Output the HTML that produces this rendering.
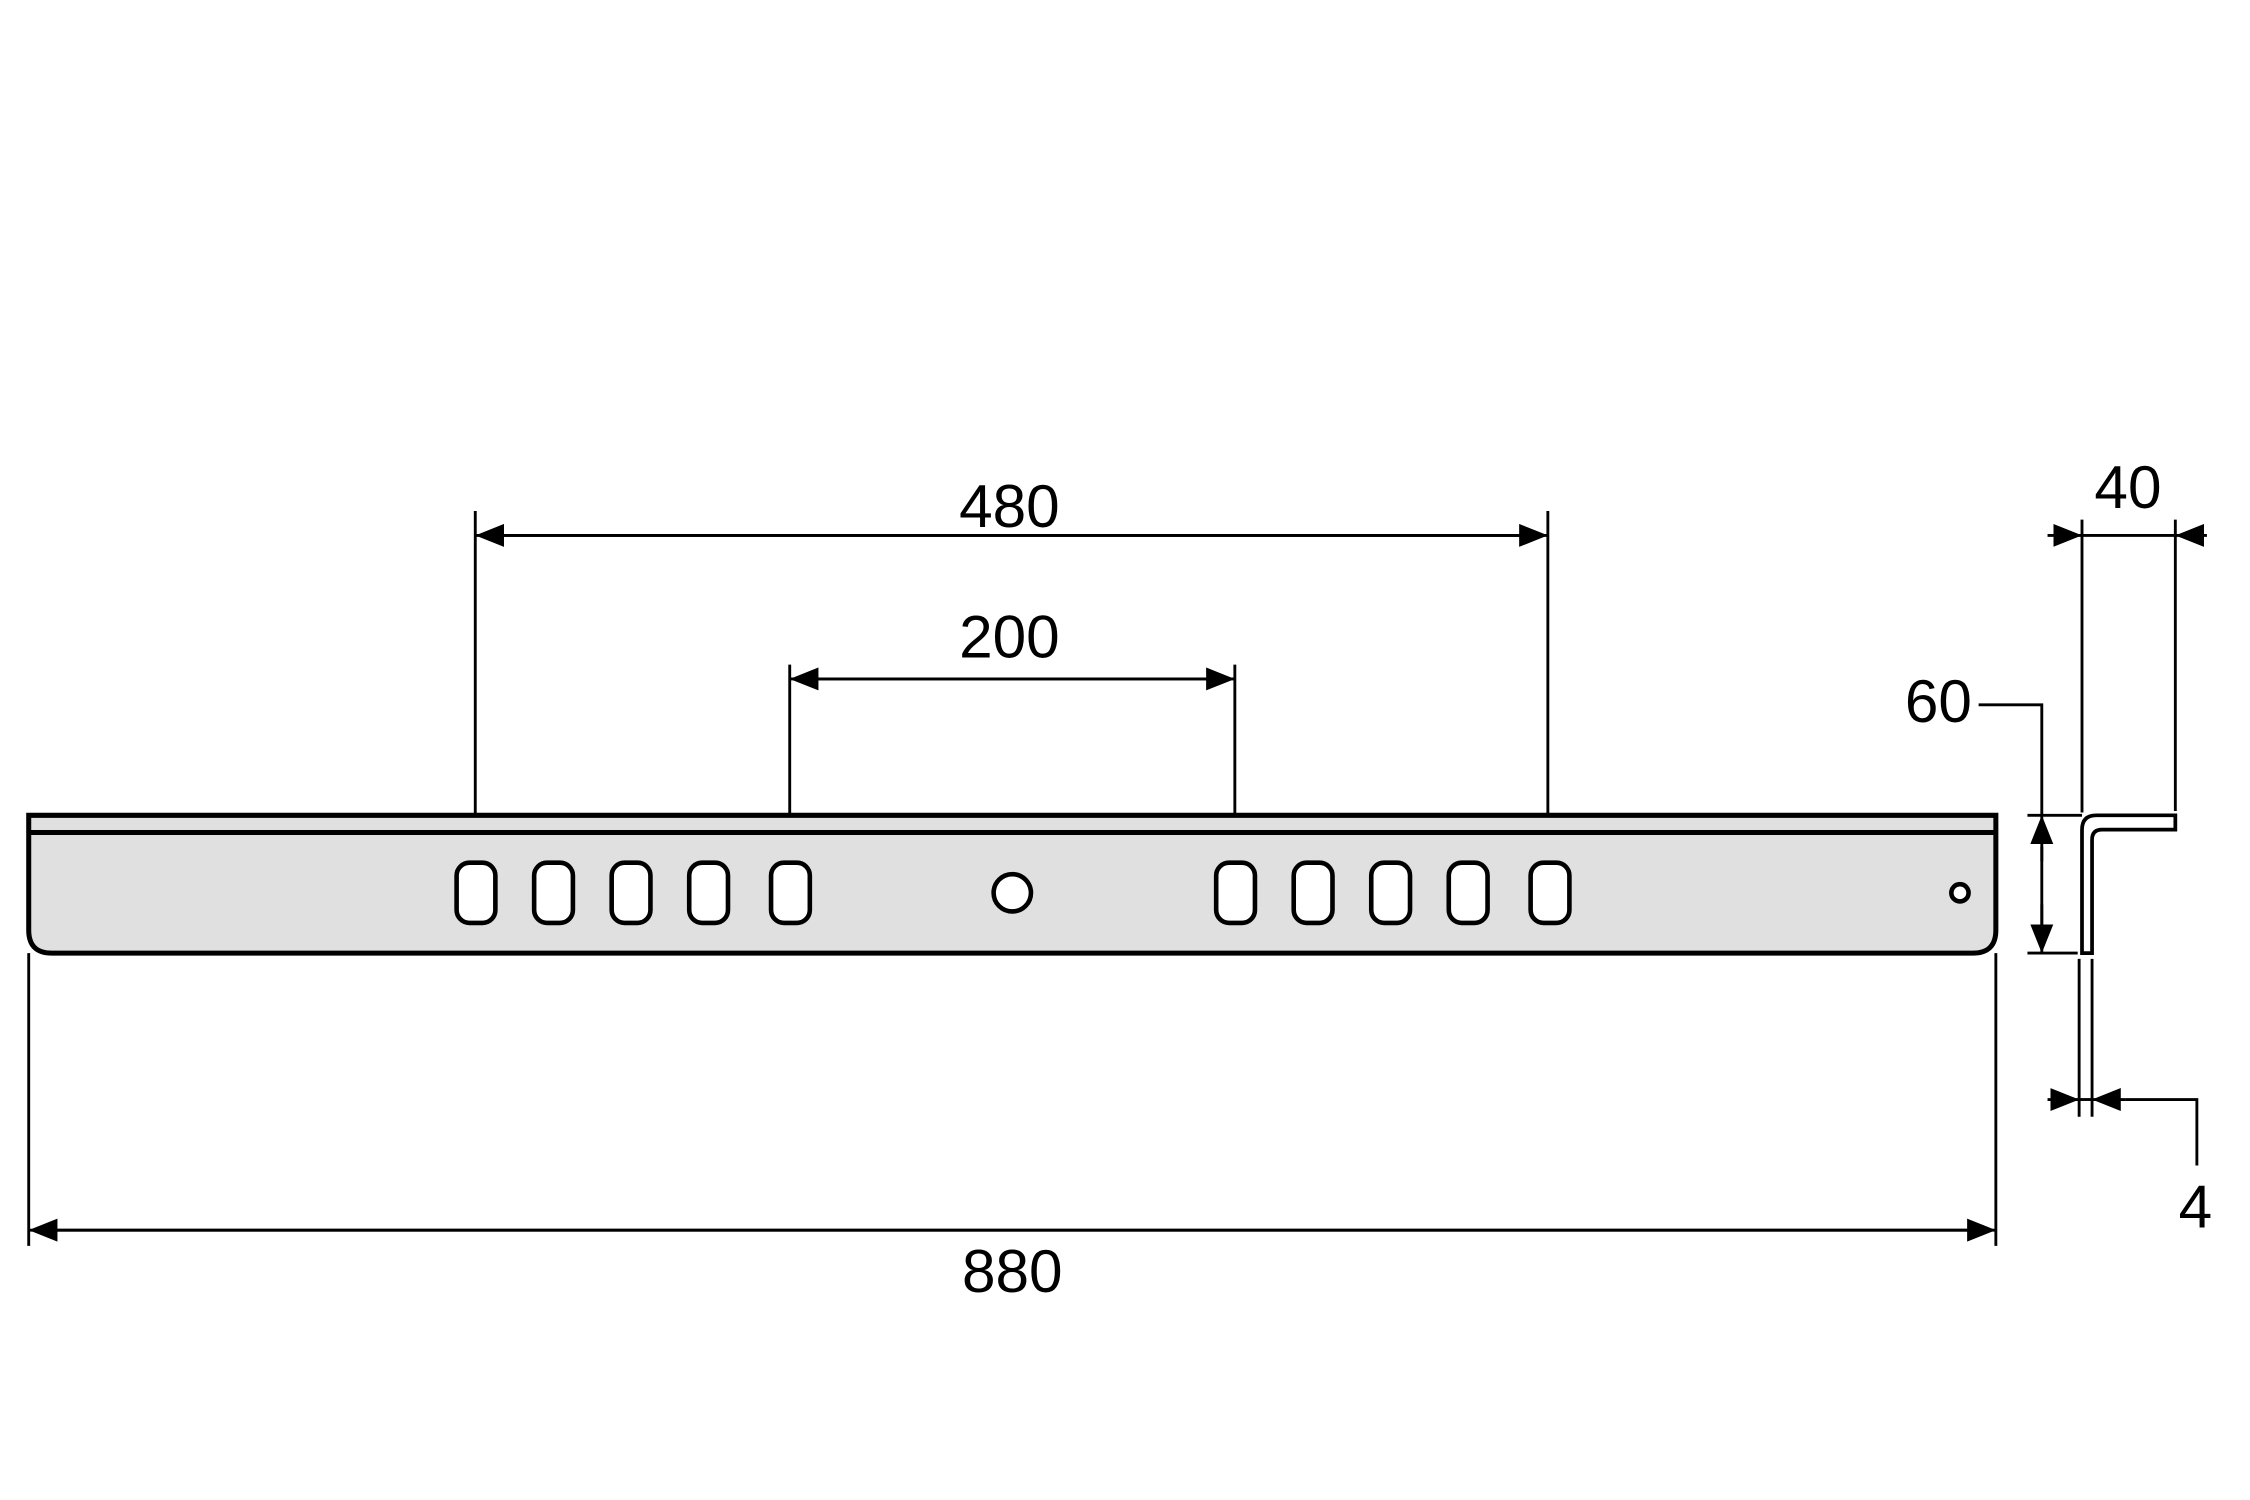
<!DOCTYPE html>
<html><head><meta charset="utf-8"><style>html,body{margin:0;padding:0;background:#fff}svg{display:block}</style></head><body>
<svg width="2250" height="1500" viewBox="0 0 1567 1045" preserveAspectRatio="none" xmlns="http://www.w3.org/2000/svg" font-family="Liberation Sans, sans-serif">
<defs>
<marker id="a" viewBox="0 0 20 16" refX="20" refY="8" markerWidth="20" markerHeight="16" markerUnits="userSpaceOnUse" orient="auto"><path d="M0,0L20,8L0,16z" fill="#000"/></marker>
</defs>
<g stroke="#000" fill="none">
<path d="M20,568H1390V648Q1390,664 1374,664H36Q20,664 20,648Z" fill="#e0e0e0" stroke-width="3.5"/>
<line x1="20" y1="580" x2="1390" y2="580" stroke-width="3.5"/>
<g fill="#fff" stroke-width="3.2">
<rect x="318" y="601" width="27" height="42" rx="9"/>
<rect x="372" y="601" width="27" height="42" rx="9"/>
<rect x="426" y="601" width="27" height="42" rx="9"/>
<rect x="480" y="601" width="27" height="42" rx="9"/>
<rect x="537" y="601" width="27" height="42" rx="9"/>
<rect x="847" y="601" width="27" height="42" rx="9"/>
<rect x="901" y="601" width="27" height="42" rx="9"/>
<rect x="955" y="601" width="27" height="42" rx="9"/>
<rect x="1009" y="601" width="27" height="42" rx="9"/>
<rect x="1066" y="601" width="27" height="42" rx="9"/>
<circle cx="705" cy="622" r="13"/>
<circle cx="1365" cy="622" r="6"/>
</g>
<g stroke-width="2">
<line x1="331" y1="356" x2="331" y2="568"/><line x1="1078" y1="356" x2="1078" y2="568"/>
<line x1="340" y1="373" x2="1078" y2="373" marker-end="url(#a)"/>
<line x1="1069" y1="373" x2="331" y2="373" marker-end="url(#a)"/>
<line x1="550" y1="463" x2="550" y2="568"/><line x1="860" y1="463" x2="860" y2="568"/>
<line x1="560" y1="473" x2="860" y2="473" marker-end="url(#a)"/>
<line x1="850" y1="473" x2="550" y2="473" marker-end="url(#a)"/>
<line x1="20" y1="664" x2="20" y2="868"/><line x1="1390" y1="664" x2="1390" y2="868"/>
<line x1="30" y1="857" x2="1390" y2="857" marker-end="url(#a)"/>
<line x1="1380" y1="857" x2="20" y2="857" marker-end="url(#a)"/>
<line x1="1450" y1="362" x2="1450" y2="566"/><line x1="1515" y1="362" x2="1515" y2="565"/>
<line x1="1426" y1="373" x2="1450" y2="373" marker-end="url(#a)"/>
<line x1="1537" y1="373" x2="1515" y2="373" marker-end="url(#a)"/>
<line x1="1450" y1="373" x2="1515" y2="373"/>
<line x1="1412" y1="568" x2="1450" y2="568"/><line x1="1412" y1="664" x2="1447" y2="664"/>
<line x1="1422" y1="600" x2="1422" y2="568" marker-end="url(#a)"/>
<line x1="1422" y1="630" x2="1422" y2="664" marker-end="url(#a)"/>
<line x1="1422" y1="590" x2="1422" y2="645"/>
<polyline points="1378,491 1422,491 1422,568"/>
<line x1="1448" y1="668" x2="1448" y2="778"/><line x1="1457" y1="668" x2="1457" y2="778"/>
<line x1="1426" y1="766" x2="1448" y2="766" marker-end="url(#a)"/>
<line x1="1480" y1="766" x2="1457" y2="766" marker-end="url(#a)"/>
<line x1="1448" y1="766" x2="1457" y2="766"/>
<polyline points="1480,766 1530,766 1530,812"/>
</g>
<path d="M1450,664V578Q1450,568 1460,568H1515V578H1464Q1457,578 1457,585V664Z" fill="#fff" stroke-width="2.6"/>
</g>
<g font-size="42" text-anchor="middle" fill="#000">
<text x="703" y="367">480</text>
<text x="703" y="458">200</text>
<text x="705" y="900">880</text>
<text x="1482" y="354">40</text>
<text x="1350" y="503">60</text>
<text x="1529" y="855">4</text>
</g>
</svg>
</body></html>
